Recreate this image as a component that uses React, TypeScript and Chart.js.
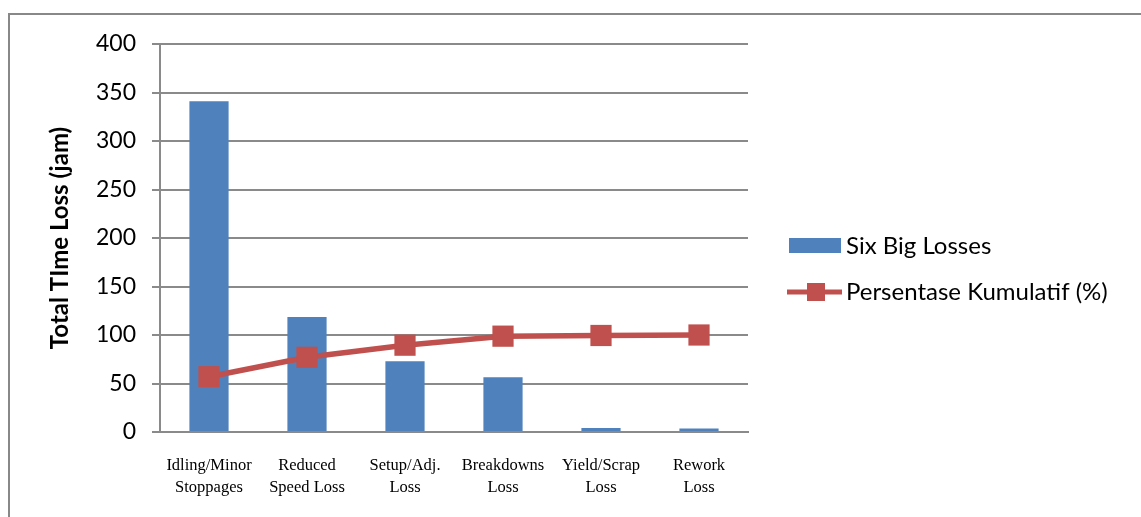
import React, { useEffect, useRef } from "react";
import { Chart, registerables } from "chart.js";

Chart.register(...registerables);

const categories: string[][] = [
  ["Idling/Minor", "Stoppages"],
  ["Reduced", "Speed Loss"],
  ["Setup/Adj.", "Loss"],
  ["Breakdowns", "Loss"],
  ["Yield/Scrap", "Loss"],
  ["Rework", "Loss"],
];
const lossHours: number[] = [341, 118.5, 73, 56.5, 4, 3.5];
const cumulativePct: number[] = [57, 77, 89.5, 98.8, 99.5, 100];
const barSeriesName = "Six Big Losses";
const lineSeriesName = "Persentase Kumulatif (%)";
const yAxisTitle = "Total TIme Loss (jam)";
const yMin = 0;
const yMax = 400;
const yStep = 50;

const BAR_COLOR = "#4F81BD";
const LINE_COLOR = "#C0504D";
const GRID_COLOR = "#8a8a8a";

const framePlugin = {
  id: "frame",
  beforeDraw(chart: any) {
    const ctx = chart.ctx;
    ctx.save();
    ctx.strokeStyle = "#888888";
    ctx.lineWidth = 2;
    ctx.beginPath();
    ctx.moveTo(9, chart.height + 5);
    ctx.lineTo(9, 14);
    ctx.lineTo(chart.width + 5, 14);
    ctx.stroke();
    ctx.restore();
  },
};

const legendPlugin = {
  id: "sideLegend",
  afterDraw(chart: any) {
    const ctx = chart.ctx;
    const ds = chart.data.datasets;
    const barDs = ds.find((d: any) => d.type === "bar");
    const lineDs = ds.find((d: any) => d.type === "line");
    ctx.save();
    // bar swatch
    ctx.fillStyle = BAR_COLOR;
    ctx.fillRect(789, 238, 52, 15);
    // line swatch
    ctx.strokeStyle = LINE_COLOR;
    ctx.lineWidth = 5;
    ctx.beginPath();
    ctx.moveTo(787, 292);
    ctx.lineTo(842, 292);
    ctx.stroke();
    ctx.fillStyle = LINE_COLOR;
    ctx.fillRect(807, 283, 18, 18);
    // texts
    ctx.fillStyle = "#000000";
    ctx.font = "24px Lato";
    ctx.textBaseline = "alphabetic";
    ctx.textAlign = "left";
    ctx.fillText(barDs.label, 846, 254);
    ctx.fillText(lineDs.label, 846, 300);
    ctx.restore();
  },
};

export default function App() {
  const canvasRef = useRef<HTMLCanvasElement | null>(null);

  useEffect(() => {
    if (!canvasRef.current) return;
    const chart = new Chart(canvasRef.current, {
      type: "bar",
      data: {
        labels: categories,
        datasets: [
          {
            type: "line",
            label: lineSeriesName,
            data: cumulativePct,
            borderColor: LINE_COLOR,
            backgroundColor: LINE_COLOR,
            borderWidth: 5.5,
            pointStyle: "rect",
            pointRadius: 15,
            pointHoverRadius: 15,
            pointBackgroundColor: LINE_COLOR,
            pointBorderColor: LINE_COLOR,
            pointBorderWidth: 0,
            tension: 0,
            order: 1,
          } as any,
          {
            type: "bar",
            label: barSeriesName,
            data: lossHours,
            backgroundColor: BAR_COLOR,
            borderWidth: 0,
            barPercentage: 0.4,
            categoryPercentage: 1,
            order: 2,
          } as any,
        ],
      },
      options: {
        responsive: false,
        animation: false,
        events: [],
        layout: { padding: { left: 0, top: 44, right: 393, bottom: 0 } },
        plugins: {
          legend: { display: false },
          tooltip: { enabled: false },
          title: { display: false },
        },
        scales: {
          x: {
            grid: { display: false, drawTicks: false },
            border: { display: true, color: GRID_COLOR, width: 2 },
            ticks: {
              color: "#000000",
              padding: 23,
              maxRotation: 0,
              autoSkip: false,
              font: { family: "'Liberation Serif', 'Times New Roman', serif", size: 16.5, lineHeight: 1.31 },
            },
            afterFit: (scale: any) => {
              scale.height = 85;
            },
          },
          y: {
            min: yMin,
            max: yMax,
            ticks: {
              stepSize: yStep,
              color: "#000000",
              padding: 16,
              font: { family: "Lato, 'Open Sans', sans-serif", size: 23 },
            },
            grid: {
              color: GRID_COLOR,
              lineWidth: 2,
              drawTicks: true,
              tickLength: 8,
              tickColor: GRID_COLOR,
            },
            border: { display: true, color: GRID_COLOR, width: 2 },
            title: {
              display: true,
              text: yAxisTitle,
              color: "#000000",
              padding: { top: 46, bottom: 0 },
              font: { family: "Lato, 'Open Sans', sans-serif", size: 24, weight: "bold" },
            },
            afterFit: (scale: any) => {
              scale.width = 160;
            },
          },
        },
      } as any,
      plugins: [framePlugin, legendPlugin],
    });
    return () => chart.destroy();
  }, []);

  return (
    <div style={{ position: "fixed", left: 0, top: 0, width: 1141, height: 517, background: "#ffffff" }}>
      <canvas ref={canvasRef} width={1141} height={517} style={{ display: "block" }} />
    </div>
  );
}
